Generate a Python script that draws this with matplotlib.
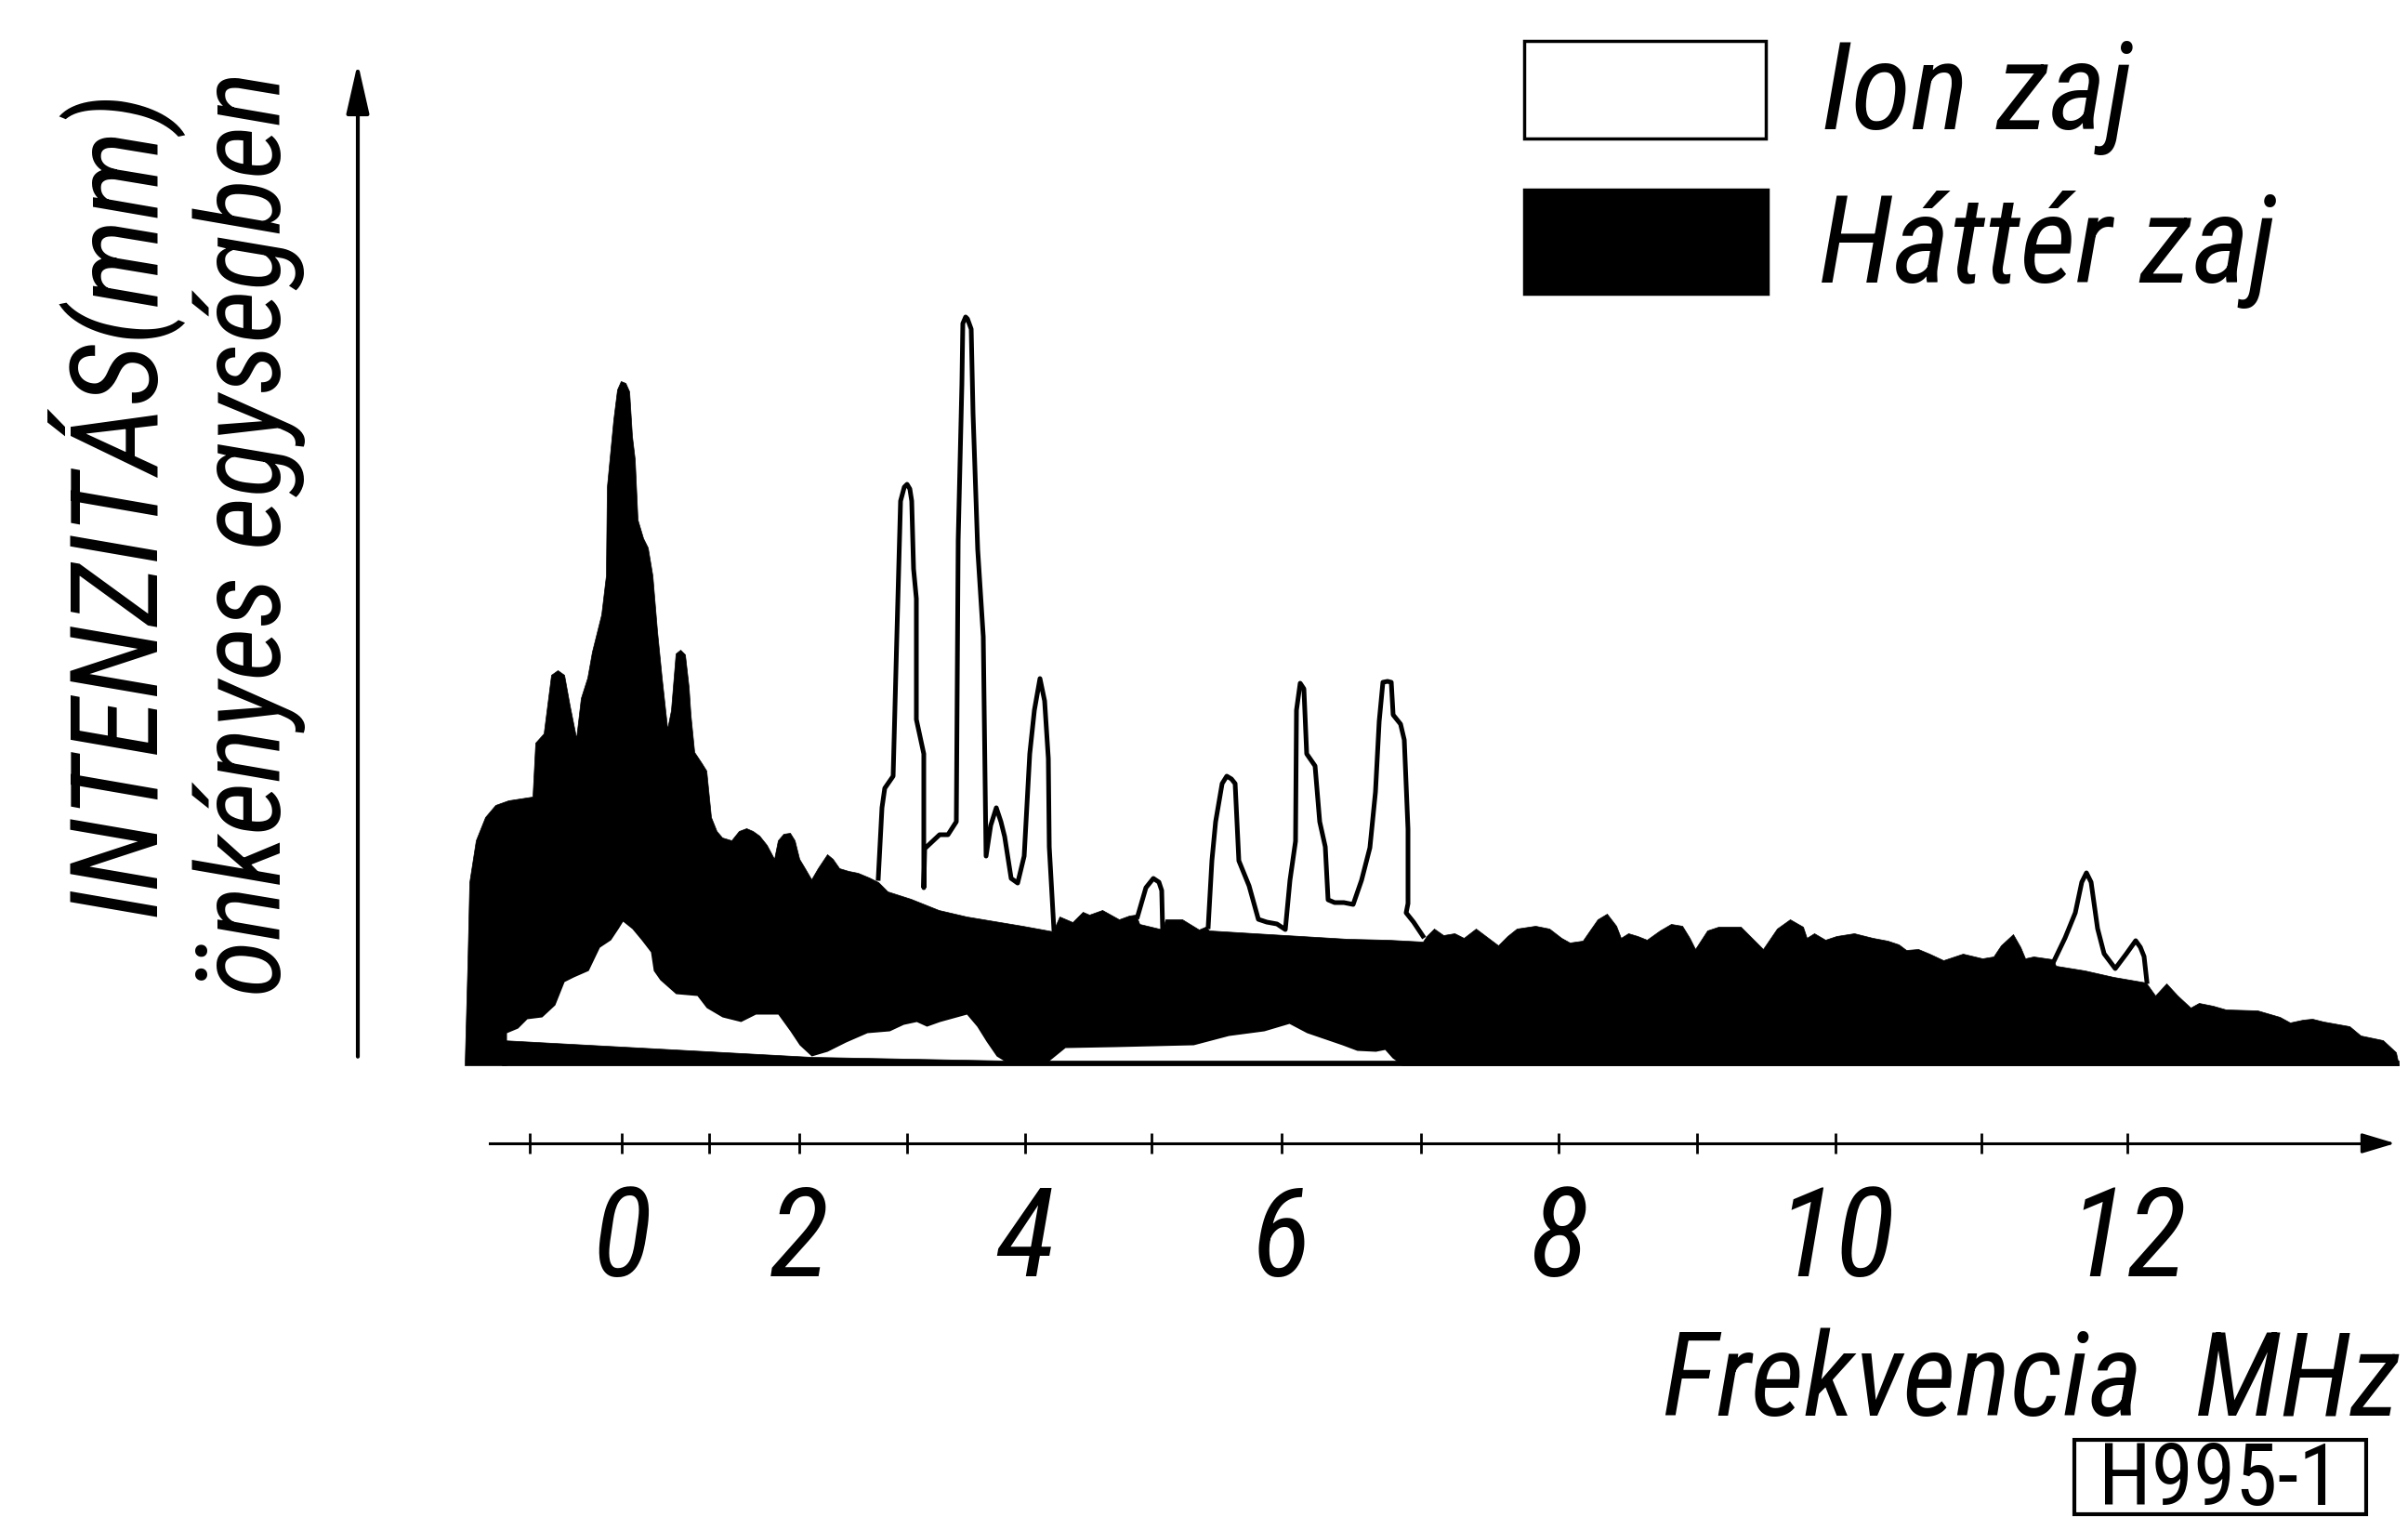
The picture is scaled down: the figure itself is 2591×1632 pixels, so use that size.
import numpy as np
import matplotlib
matplotlib.use("Agg")
import matplotlib.pyplot as plt
from matplotlib import font_manager
from matplotlib.patches import Rectangle

# positions along the record (trace units) and heights above the zero line
# background noise band, upper edge
hatter_x = [500, 503, 505, 512, 522, 533, 547, 573, 576, 585, 593, 600, 607, 613, 620,
            625, 632, 637, 647, 652, 653, 660, 664, 668, 673, 677, 680, 683, 686, 692,
            697, 702, 707, 712, 718, 722, 727, 732, 737, 741, 743, 747, 755, 760, 765,
            771, 777, 787, 795, 803, 810, 817, 825, 833, 837, 843, 850, 855, 860, 866,
            873, 880, 890, 896, 903, 913, 923, 935, 945, 955, 980, 1010, 1040, 1070, 1100,
            1133, 1140, 1147, 1154, 1165, 1172, 1186, 1195, 1204, 1215, 1222, 1226, 1251, 1254, 1272,
            1290, 1297, 1301, 1350, 1400, 1450, 1493, 1531, 1535, 1543, 1553, 1565, 1575, 1588, 1600,
            1612, 1622, 1632, 1652, 1667, 1680, 1689, 1703, 1712, 1719, 1729, 1739, 1744, 1752, 1762,
            1772, 1786, 1798, 1810, 1818, 1824, 1837, 1849, 1873, 1885, 1897, 1912, 1926, 1940, 1944,
            1952, 1964, 1976, 1995, 2015, 2031, 2043, 2051, 2064, 2076, 2091, 2112, 2133, 2145, 2153,
            2166, 2174, 2179, 2188, 2209, 2212, 2243, 2274, 2309, 2319, 2331, 2343, 2357, 2366, 2381,
            2395, 2429, 2453, 2464, 2478, 2488, 2500, 2528, 2540, 2564, 2578, 2581]
hatter_y = [0, 110, 197, 242, 267, 280, 285, 289, 347, 357, 420, 425, 420, 387, 352,
            395, 417, 445, 485, 527, 622, 695, 727, 736, 734, 725, 677, 652, 587, 567,
            557, 527, 467, 417, 362, 382, 443, 447, 442, 407, 377, 337, 325, 317, 267,
            252, 245, 242, 252, 255, 252, 247, 237, 222, 242, 249, 250, 242, 222, 212,
            200, 212, 227, 222, 212, 209, 207, 202, 197, 187, 179, 167, 160, 155, 150,
            144, 160, 157, 154, 165, 162, 167, 162, 157, 161, 162, 152, 146, 157, 157,
            146, 149, 145, 142, 139, 136, 135, 133, 139, 147, 140, 142, 137, 147, 138,
            129, 139, 147, 150, 147, 137, 132, 134, 147, 157, 163, 150, 137, 142, 139,
            135, 145, 152, 150, 137, 125, 145, 149, 149, 137, 125, 147, 157, 149, 137,
            142, 135, 139, 142, 137, 134, 130, 124, 125, 120, 113, 120, 115, 117, 129,
            141, 127, 115, 117, 114, 107, 102, 95, 89, 75, 88, 75, 62, 67, 64,
            60, 59, 52, 46, 49, 50, 47, 42, 32, 27, 14, 0]

# lower edge of the background band (white gaps under it)
also_x = [545, 557, 567, 583, 597, 607, 617, 633, 645, 657, 665, 670, 680, 690, 700,
          703, 710, 727, 750, 760, 777, 797, 813, 837, 850, 860, 873, 890, 910, 933,
          957, 972, 986, 997, 1011, 1040, 1051, 1061, 1072, 1085, 1125, 1146, 1200, 1284, 1322,
          1360, 1387, 1406, 1444, 1460, 1480, 1490, 1498, 1508]
also_y = [35, 40, 50, 52, 65, 90, 95, 102, 127, 135, 147, 155, 147, 135, 122,
          102, 92, 77, 75, 62, 52, 47, 55, 55, 37, 22, 10, 15, 25, 35,
          37, 44, 47, 42, 47, 55, 42, 26, 10, 2, 2, 19, 20, 22, 32,
          37, 45, 35, 22, 16, 15, 17, 8, 1]

# zero line of the record
nulla_x = [540, 873, 1085, 2581]
nulla_y = [27, 9, 5, 5]

# ion noise trace (gaps where it runs inside the background band)
ion_x = [945, 949, 952, 961, 965, 969, 973, 976, 979, 981, 983, 986, 986, 994, 994,
         995, 1011, 1020, 1029, 1031, 1035, 1036, 1039, 1041, 1045, 1047, 1052, 1058, 1060, 1061,
         1066, 1072, 1077, 1081, 1088, 1095, 1102, 1108, 1113, 1119, 1124, 1128, 1129, 1134, np.nan,
         1224, 1233, 1241, 1247, 1250, 1251, np.nan,
         1300, 1304, 1308, 1315, 1320, 1325, 1329, 1333, 1344, 1354, 1363, 1374, 1383, 1388, 1394,
         1395, 1399, 1403, 1406, 1415, 1420, 1426, 1429, 1436, 1446, 1456, 1465, 1474, 1480, 1484,
         1488, 1493, 1497, 1499, 1507, 1511, 1515, 1515, 1513, 1521, 1531, np.nan,
         2210, 2222, 2233, 2240, 2245, 2250, 2257, 2264, 2276, 2288, 2298, 2303, 2307, 2310]
ion_y = [201, 277, 298, 311, 461, 607, 622, 625, 620, 607, 534, 502, 372, 335, 191,
         233, 248, 248, 262, 565, 733, 798, 805, 803, 792, 701, 555, 461, 303, 225,
         258, 277, 262, 246, 201, 196, 225, 335, 382, 416, 392, 330, 235, 146, np.nan,
         160, 191, 201, 197, 188, 146, np.nan,
         149, 220, 262, 303, 311, 308, 303, 220, 193, 157, 154, 152, 146, 199, 241,
         382, 411, 405, 335, 322, 262, 235, 178, 175, 175, 173, 199, 234, 294, 370,
         412, 413, 412, 377, 367, 350, 254, 174, 164, 154, 139, np.nan,
         112, 137, 164, 197, 207, 197, 147, 120, 104, 120, 134, 127, 117, 90]

# frequency calibration of the record
freq_major = [0, 2, 4, 6, 8, 10, 12]
major_pos = [669, 860, 1103, 1379, 1677, 1975, 2289]
freq_minor = [-1, 1, 3, 5, 7, 9, 11]
minor_pos = [570, 763, 976, 1239, 1529, 1826, 2132]

W, H = 2591, 1633


def pick_font():
    # a narrow lettering face if there is one, else plain DejaVu
    for name in ["Liberation Sans Narrow", "Roboto Condensed", "DejaVu Sans Condensed",
                 "Open Sans Condensed", "Noto Sans Condensed"]:
        try:
            font_manager.findfont(name, fallback_to_default=False)
            return name, True
        except ValueError:
            pass
    return "DejaVu Sans", False


FONT, NARROW = pick_font()
plt.rcParams["font.family"] = [FONT, "DejaVu Sans"]
k = 1.0 if NARROW else 0.82


def fx(x):
    return x / W


def fy(y):
    return 1 - y / H


fig = plt.figure(figsize=(W / 100, H / 100), dpi=100)
ax = fig.add_axes([fx(385), fy(1147), (2590 - 385) / W, (1147 - 66) / H])
ax.set_xlim(385, 2590)
ax.set_ylim(0, 1081)

ax.fill_between(hatter_x, 0, hatter_y, color="black", lw=0.5, zorder=1)
ax.fill_between(also_x, 0, also_y, color="white", lw=0, zorder=2)
ax.fill_between(nulla_x, 0, nulla_y, color="black", lw=0.5, zorder=3)
ax.plot(ion_x, ion_y, color="black", lw=3.6, solid_joinstyle="round", zorder=4)

for s in ["top", "right", "left"]:
    ax.spines[s].set_visible(False)
ax.spines["bottom"].set_position(("outward", 60.5))
ax.spines["bottom"].set_bounds(527, 2560)
ax.spines["bottom"].set_linewidth(2.2)
ax.set_yticks([])
ax.set_xticks(major_pos, labels=[str(f) for f in freq_major])
ax.set_xticks(minor_pos, minor=True)
ax.tick_params(axis="x", which="both", direction="inout", length=16, width=2)
ax.tick_params(axis="x", which="major", pad=22)
for lab in ax.get_xticklabels():
    lab.set_fontsize(96 * k)
    lab.set_fontstyle("italic")

# axis arrows
ax.annotate("", xy=(0, 1), xycoords="axes fraction", xytext=(0, 0.006),
            arrowprops=dict(arrowstyle="-|>,head_length=1.1,head_width=0.25",
                            lw=3, color="black", mutation_scale=30))
ax.annotate("", xy=(2580, -84), xytext=(2540, -84), annotation_clip=False,
            arrowprops=dict(arrowstyle="-|>,head_length=1.0,head_width=0.3",
                            lw=2.2, color="black", mutation_scale=22))

# axis titles
fig.text(fx(122), fy(541), "INTENZITÁS(mm)", rotation=90, ha="center", va="center",
         fontsize=94 * k, fontstyle="italic")
fig.text(fx(268), fy(574), "önkényes egységben", rotation=90, ha="center", va="center",
         fontsize=90 * k, fontstyle="italic")
fig.text(fx(2582), fy(1523), "Frekvencia  MHz", ha="right", va="baseline",
         fontsize=90 * k, fontstyle="italic")

# legend
fig.add_artist(Rectangle((fx(1640), fy(150)), (1900 - 1640) / W, (150 - 45) / H,
                         transform=fig.transFigure, facecolor="white",
                         edgecolor="black", lw=2.5))
fig.add_artist(Rectangle((fx(1640), fy(317)), (1902 - 1640) / W, (317 - 205) / H,
                         transform=fig.transFigure, facecolor="black",
                         edgecolor="black", lw=2.5))
fig.text(fx(1960), fy(139), "Ion zaj", ha="left", va="baseline", fontsize=95 * k,
         fontstyle="italic")
fig.text(fx(1957), fy(304), "Háttér zaj", ha="left", va="baseline", fontsize=95 * k,
         fontstyle="italic")

# drawing number
fig.add_artist(Rectangle((fx(2232), fy(1630)), (2546 - 2232) / W, (1630 - 1550) / H,
                         transform=fig.transFigure, facecolor="none",
                         edgecolor="black", lw=3))
fig.text(fx(2388), fy(1619), "H995-1", ha="center", va="baseline", fontsize=66 * k)

fig.savefig("out.png", dpi=100, facecolor="white")
